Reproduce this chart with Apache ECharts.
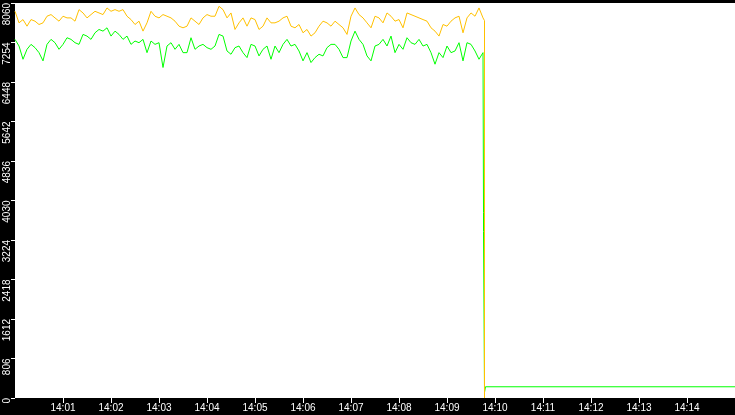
<!DOCTYPE html>
<html>
<head>
<meta charset="utf-8">
<title>trend</title>
<script src="https://cdn.jsdelivr.net/npm/echarts@6.0.0/dist/echarts.min.js"></script>
<style>
html, body { margin: 0; padding: 0; background: #000; }
#chart { width: 735px; height: 415px; }
</style>
</head>
<body>
<div id="chart"></div>
<script>
// 采样间隔 5 秒，从 14:00:00 开始（横轴单位：秒）
var sampleSec = 5;

// 黄线读数
var orangeVals = [
	7891, 7655, 7722, 7587, 7722, 7689, 7621, 7655, 7790, 7824, 7756, 7689, 7790, 7756, 7756,
	7689, 7925, 7857, 7756, 7824, 7891, 7857, 7824, 7959, 7891, 7925, 7891, 7925, 7790, 7722,
	7621, 7689, 7486, 7655, 7891, 7790, 7756, 7824, 7790, 7756, 7689, 7587, 7554, 7587, 7756,
	7689, 7621, 7756, 7824, 7790, 7790, 7993, 7925, 7756, 7857, 7520, 7655, 7756, 7587, 7756,
	7722, 7520, 7587, 7756, 7655, 7655, 7689, 7756, 7790, 7587, 7554, 7621, 7452, 7520, 7385,
	7452, 7587, 7689, 7655, 7587, 7689, 7621, 7554, 7419, 7790, 7959, 7824, 7756, 7655, 7554,
	7790, 7756, 7655, 7857, 7790, 7689, 7722, 7554, 7857, 7824, 7790, 7756, 7722, 7689, 7554,
	7486, 7385, 7621, 7587, 7689, 7756, 7790, 7452, 7756, 7857, 7790, 7959, 7756
];

// 绿线读数
var greenVals = [
	7318, 7182, 6912, 7115, 7216, 7149, 7047, 6879, 7216, 7318, 7250, 7115, 7216, 7351, 7318,
	7250, 7216, 7419, 7385, 7318, 7452, 7520, 7486, 7554, 7385, 7486, 7419, 7318, 7385, 7216,
	7284, 7250, 7318, 7047, 7284, 7216, 7250, 6744, 7182, 7250, 7115, 7216, 7047, 7047, 7351,
	7115, 7182, 7216, 7149, 7115, 7182, 7419, 7385, 7081, 7014, 7149, 7182, 7047, 6946, 7216,
	7182, 6980, 7115, 7182, 6912, 7182, 7047, 7216, 7318, 7182, 7216, 7081, 6879, 7047, 6845,
	6946, 7014, 6980, 7149, 7216, 7216, 7115, 6946, 6946, 7284, 7486, 7318, 7216, 6980, 6879,
	7182, 7216, 7318, 7182, 7385, 7047, 7216, 7115, 7351, 7250, 7216, 7318, 7182, 7216, 7047,
	6811, 7047, 6946, 7182, 7047, 7081, 7250, 6879, 7250, 7216, 7081, 6912, 7047
];

// 14:09:45 之后的掉线部分 [秒, 值]
var orangeTail = [[586.875, 7700], [586.875, 0]];
var greenTail = [[585.625, 3790], [585.625, 3400], [586.875, 3400], [586.875, 115],
		[588.125, 115], [588.125, 229], [900, 229]];

// 纵轴刻度
var yMax = 8060;
var yStep = 806;

// 横轴刻度（分钟）
var tickMinutes = [1, 2, 3, 4, 5, 6, 7, 8, 9, 10, 11, 12, 13, 14];

function toPairs(vals, tail) {
	var arr = [];
	for (var i = 0; i < vals.length; i++) {
		arr.push([i * sampleSec, vals[i]]);
	}
	return arr.concat(tail);
}

var tickSecs = [];
for (var k = 0; k < tickMinutes.length; k++) {
	tickSecs.push(tickMinutes[k] * 60);
}

var myChart = echarts.init(document.getElementById('chart'));

var option = {
	animation : false,
	backgroundColor : '#000',
	textStyle : {
		fontFamily : 'Liberation Sans, Arial, sans-serif'
	},
	grid : {
		show : true,
		left : 15,
		right : 0,
		top : 0,
		bottom : 17,
		backgroundColor : '#fff',
		borderWidth : 0
	},
	xAxis : {
		type : 'value',
		min : 0,
		max : 900,
		interval : 60,
		axisLine : { show : false },
		splitLine : { show : false },
		axisTick : {
			show : true,
			length : 5,
			customValues : tickSecs,
			lineStyle : { color : '#fff', width : 1 }
		},
		axisLabel : {
			color : '#fff',
			fontSize : 10,
			margin : 5,
			customValues : tickSecs,
			formatter : function(v) {
				var m = Math.round(v / 60);
				return '14:' + (m < 10 ? '0' + m : m);
			}
		}
	},
	yAxis : {
		type : 'value',
		min : 0,
		max : yMax,
		interval : yStep,
		axisLine : { show : false },
		splitLine : { show : false },
		axisTick : {
			show : true,
			length : 4,
			lineStyle : { color : '#fff', width : 1 }
		},
		axisLabel : {
			color : '#fff',
			fontSize : 10,
			rotate : 90,
			align : 'right',
			verticalAlign : 'middle',
			margin : 8,
			formatter : function(v) {
				return String(v);
			}
		}
	},
	series : [{
		name : 'green',
		type : 'line',
		showSymbol : false,
		lineStyle : { color : '#00ff00', width : 1 },
		data : toPairs(greenVals, greenTail)
	}, {
		name : 'orange',
		type : 'line',
		showSymbol : false,
		lineStyle : { color : '#ffc000', width : 1 },
		data : toPairs(orangeVals, orangeTail)
	}]
};

myChart.setOption(option);
</script>
</body>
</html>
